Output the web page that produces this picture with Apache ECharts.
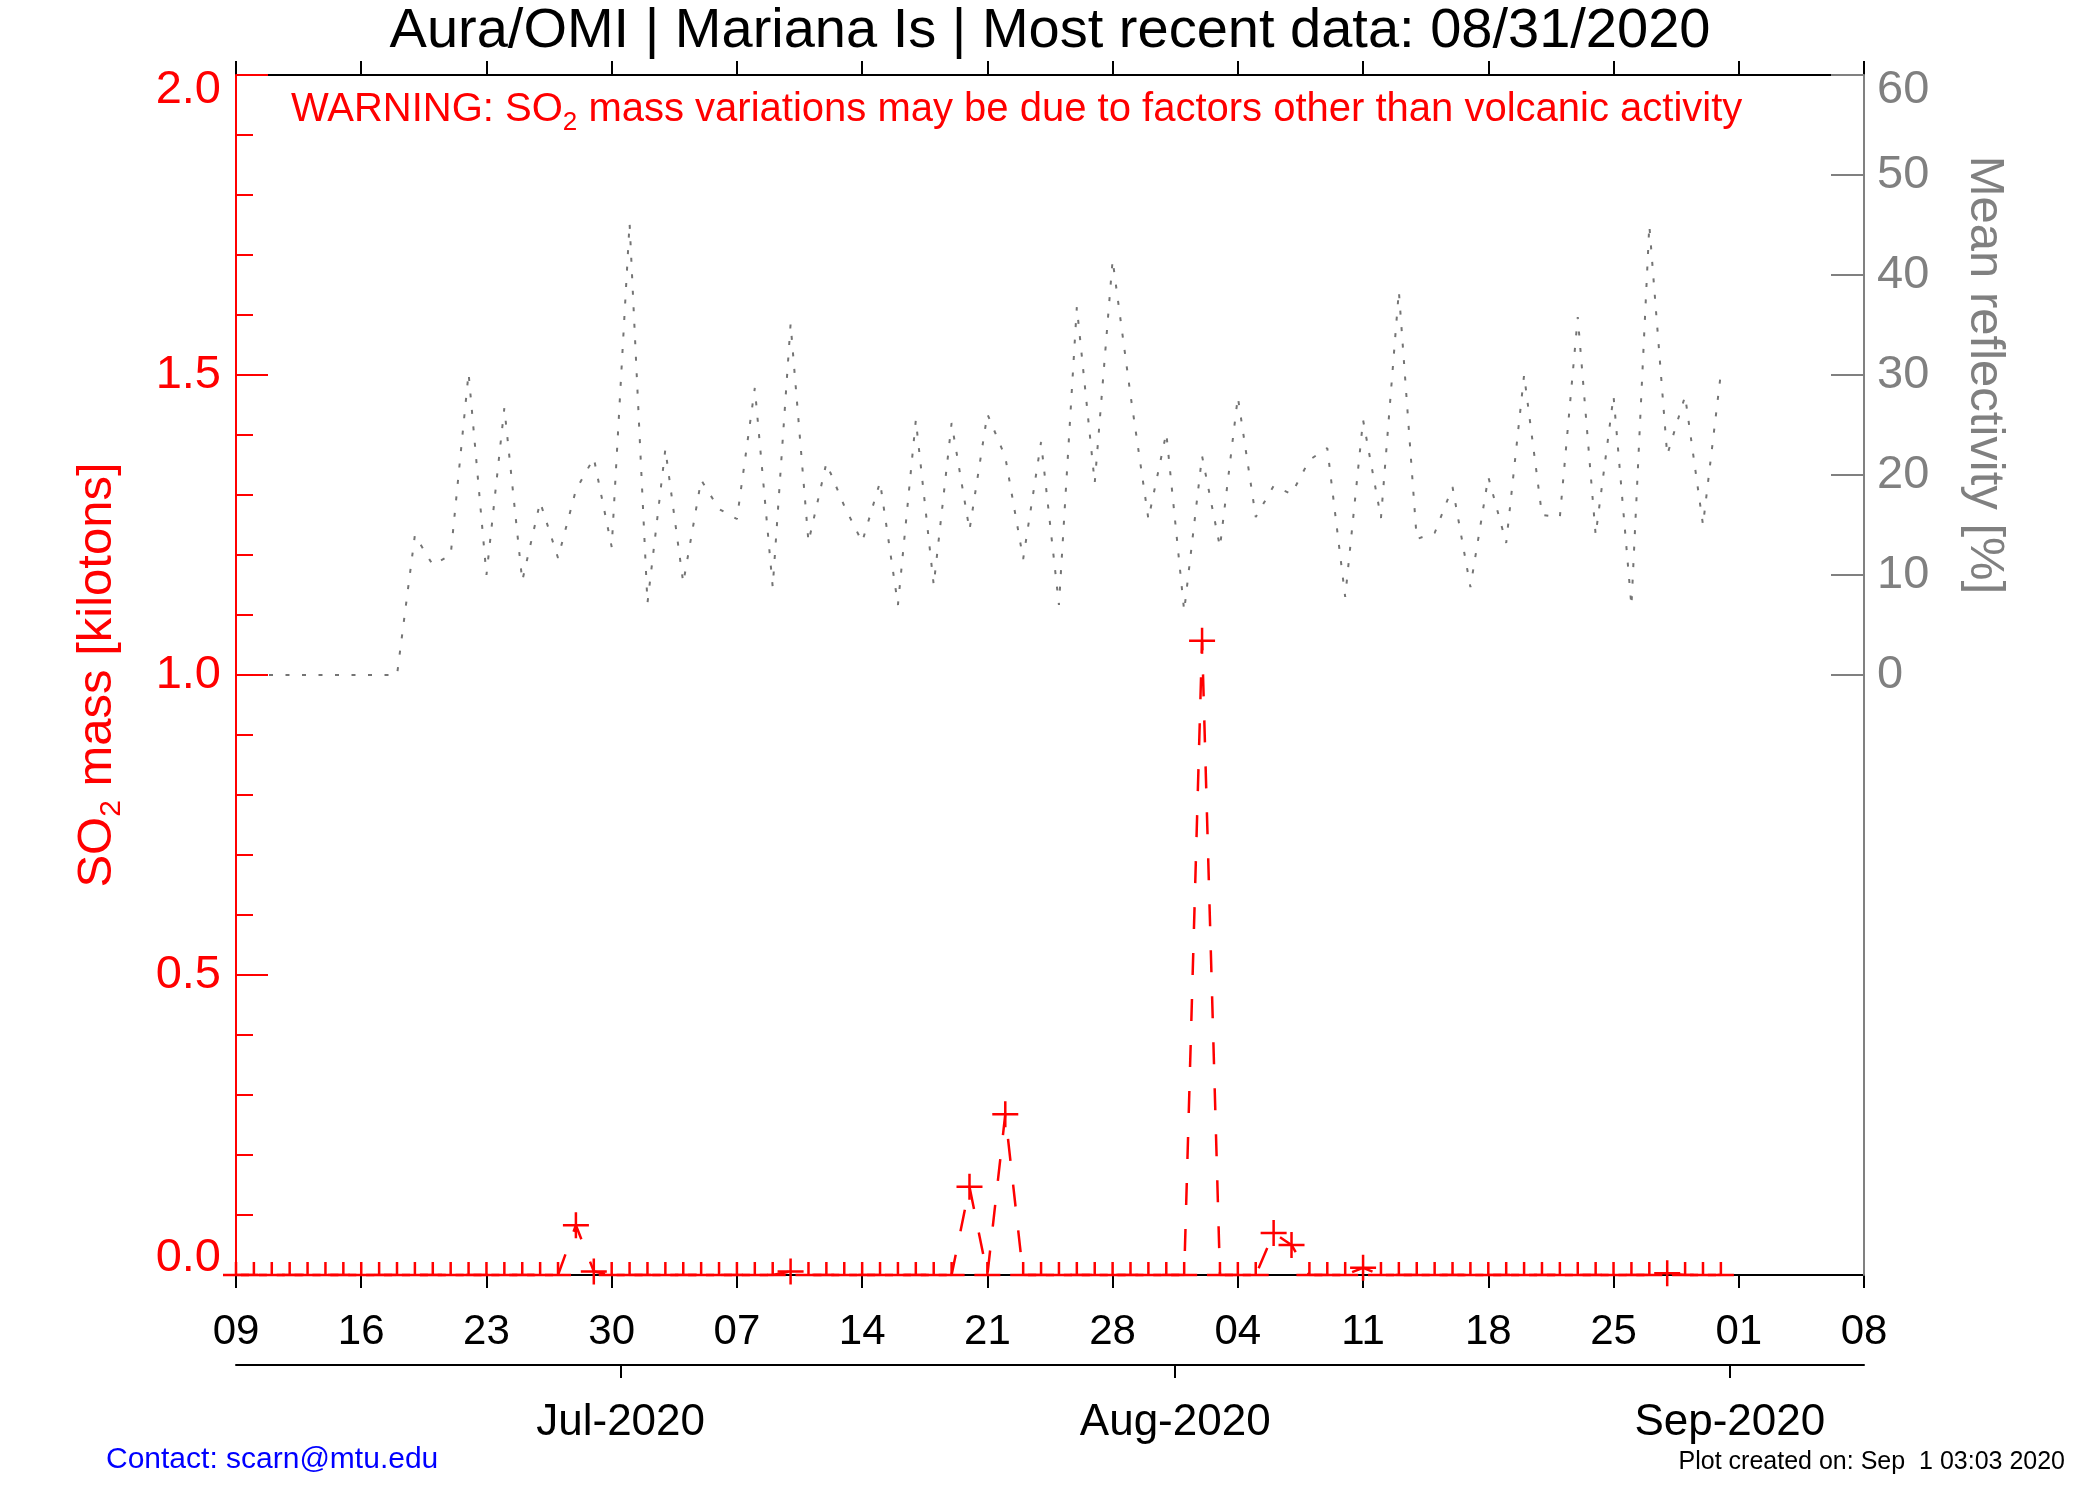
<!DOCTYPE html>
<html>
<head>
<meta charset="utf-8">
<title>Aura/OMI | Mariana Is</title>
<script src="https://cdn.jsdelivr.net/npm/echarts@6.0.0/dist/echarts.min.js"></script>
<style>
  html, body { margin: 0; padding: 0; background: #ffffff; }
  #main { width: 2100px; height: 1500px; }
</style>
</head>
<body>
<div id="main"></div>
<script type="text/javascript">
// first day of the daily series (values are daily, 06/09 .. 08/31)
var startDay = '2020-06-09';
var axisDays = 91; // 06/09 .. 09/08

// SO2 mass [kilotons], one row per week
var so2Mass = [
  0, 0, 0, 0, 0, 0, 0,
  0, 0, 0, 0, 0, 0, 0,
  0, 0, 0, 0, 0, 0.083, 0.006,
  0, 0, 0, 0, 0, 0, 0,
  0, 0, 0, 0.006, 0, 0, 0,
  0, 0, 0, 0, 0, 0, 0.147,
  0, 0.268, 0, 0, 0, 0, 0,
  0, 0, 0, 0, 0, 1.057, 0,
  0, 0, 0.070, 0.050, 0, 0, 0,
  0.012, 0, 0, 0, 0, 0, 0,
  0, 0, 0, 0, 0, 0, 0,
  0, 0, 0, 0.003, 0, 0, 0
];

// mean reflectivity [%], same days
var reflectivity = [
  0, 0, 0, 0, 0, 0, 0,
  0, 0, 0, 14.0, 11.0, 12.0, 30.2,
  10.0, 26.7, 9.4, 17.3, 11.7, 18.5, 21.7,
  12.8, 45.2, 7.2, 22.6, 9.2, 19.5, 16.6,
  15.6, 28.7, 8.8, 35.1, 13.3, 21.2, 16.9,
  13.3, 19.3, 7.0, 25.5, 9.0, 25.2, 14.5,
  26.1, 21.8, 11.6, 23.3, 7.0, 36.8, 19.2,
  41.5, 28.0, 15.6, 24.2, 6.4, 21.9, 12.8,
  27.8, 15.8, 18.9, 18.1, 21.5, 22.7, 7.8,
  25.5, 15.7, 38.4, 13.6, 14.2, 18.8, 8.8,
  19.8, 13.2, 30.0, 16.0, 15.8, 35.8, 14.0,
  27.9, 6.9, 45.0, 22.0, 27.9, 15.0, 30.2
];

// weekly tick labels (every 7 days from 06/09)
var weekLabels = ['09', '16', '23', '30', '07', '14', '21', '28', '04', '11', '18', '25', '01', '08'];
var monthStarts = ['2020-07-01', '2020-08-01', '2020-09-01'];
var monthLabels = ['Jul-2020', 'Aug-2020', 'Sep-2020'];

var FONT = '"Liberation Sans", Arial, Helvetica, sans-serif';
var RED = '#ff0000', GRAY = '#808080', BLACK = '#000000';

// data points sit at noon, month ticks at midnight
function dayOffset(s) {
  return (Date.parse(s + 'T00:00:00Z') - Date.parse(startDay + 'T12:00:00Z')) / 86400000;
}
var monthTicks = monthStarts.map(dayOffset);

// '+' marker; on the zero line only the upper half shows
var plusFull = 'path://M11.75,0H14.25V11.75H26V14.25H14.25V26H11.75V14.25H0V11.75H11.75Z';
var plusHalf = 'path://M11.75,0H14.25V11.75H26V14.25H0V11.75H11.75ZM12.99,25.99H13V26H12.99Z';

var chart = echarts.init(document.getElementById('main'));

var option = {
  animation: false,
  backgroundColor: '#ffffff',
  textStyle: { fontFamily: FONT },
  title: {
    text: 'Aura/OMI | Mariana Is | Most recent data: 08/31/2020',
    left: 'center',
    top: 4,
    padding: 0,
    textStyle: { fontFamily: FONT, fontSize: 56, fontWeight: 'normal', color: BLACK }
  },
  grid: [
    { left: 236, top: 75, width: 1628, height: 1200, outerBoundsMode: 'none' },
    { left: 236, top: 75, width: 1628, height: 600, outerBoundsMode: 'none' }
  ],
  xAxis: [
    { // days
      type: 'value', gridIndex: 0, position: 'bottom', min: 0, max: axisDays, interval: 7,
      axisLine: { onZero: false, lineStyle: { color: BLACK, width: 2 } },
      axisTick: { inside: false, length: 13, lineStyle: { color: BLACK, width: 2 } },
      axisLabel: {
        margin: 36, fontSize: 42, color: BLACK, fontFamily: FONT,
        showMinLabel: true, showMaxLabel: true,
        formatter: function (v) { return weekLabels[Math.round(v / 7)]; }
      },
      splitLine: { show: false }
    },
    { // top frame
      type: 'value', gridIndex: 0, position: 'top', min: 0, max: axisDays, interval: 7,
      axisLine: { onZero: false, lineStyle: { color: BLACK, width: 2 } },
      axisTick: { inside: false, length: 14, lineStyle: { color: BLACK, width: 2 } },
      axisLabel: { show: false },
      splitLine: { show: false }
    },
    { // months
      type: 'value', gridIndex: 0, position: 'bottom', offset: 90, min: 0, max: axisDays,
      axisLine: { onZero: false, lineStyle: { color: BLACK, width: 2 } },
      axisTick: { inside: false, length: 13, customValues: monthTicks, lineStyle: { color: BLACK, width: 2 } },
      axisLabel: {
        customValues: monthTicks, margin: 36, fontSize: 44, color: BLACK, fontFamily: FONT,
        formatter: function (v) {
          for (var i = 0; i < monthTicks.length; i++) {
            if (Math.abs(monthTicks[i] - v) < 0.01) return monthLabels[i];
          }
          return '';
        }
      },
      splitLine: { show: false }
    },
    { type: 'value', gridIndex: 1, min: 0, max: axisDays, show: false }
  ],
  yAxis: [
    { // SO2 mass
      type: 'value', gridIndex: 0, position: 'left', min: 0, max: 2, interval: 0.5, z: 3,
      name: '{n|SO}{s|2}{n| mass [kilotons]}',
      nameLocation: 'middle', nameRotate: 90, nameGap: 109, nameMoveOverlap: false,
      nameTextStyle: {
        color: RED,
        rich: {
          n: { fontSize: 49, color: RED, fontFamily: FONT },
          s: { fontSize: 30, color: RED, fontFamily: FONT, padding: [30, 0, 0, 0] }
        }
      },
      axisLine: { onZero: false, lineStyle: { color: RED, width: 2 } },
      axisTick: { inside: true, length: 32, lineStyle: { color: RED, width: 2 } },
      minorTick: { show: true, splitNumber: 5, length: 17, lineStyle: { color: RED, width: 2 } },
      axisLabel: {
        margin: 15, color: RED, fontSize: 47, fontFamily: FONT,
        showMinLabel: true, showMaxLabel: true,
        formatter: function (v) {
          if (v === 2) return '{gap|}\n{top|2.0}';
          if (v === 0) return '{bot|0.0}\n{gap0|}';
          return v.toFixed(1);
        },
        rich: {
          gap: { height: 30, lineHeight: 30 },
          top: { lineHeight: 30, fontSize: 47, color: RED, fontFamily: FONT },
          gap0: { height: 34, lineHeight: 34 },
          bot: { lineHeight: 34, fontSize: 47, color: RED, fontFamily: FONT }
        }
      },
      splitLine: { show: false }
    },
    { // right frame line
      type: 'value', gridIndex: 0, position: 'right', min: 0, max: 1, z: 3,
      axisLine: { show: true, onZero: false, lineStyle: { color: GRAY, width: 2 } },
      axisTick: { show: false },
      axisLabel: { show: false },
      splitLine: { show: false }
    },
    { // reflectivity
      type: 'value', gridIndex: 1, position: 'right', min: 0, max: 60, interval: 10, z: 3,
      name: 'Mean reflectivity [%]',
      nameLocation: 'middle', nameRotate: -90, nameGap: 96, nameMoveOverlap: false,
      nameTextStyle: { color: GRAY, fontSize: 49, fontFamily: FONT },
      axisLine: { show: false, onZero: false },
      axisTick: { inside: true, length: 33, lineStyle: { color: GRAY, width: 2 } },
      axisLabel: {
        margin: 13, color: GRAY, fontSize: 47, fontFamily: FONT,
        showMinLabel: true, showMaxLabel: true,
        formatter: function (v) {
          if (v === 60) return '{gap|}\n{top|60}';
          return String(v);
        },
        rich: {
          gap: { height: 31, lineHeight: 31 },
          top: { lineHeight: 31, fontSize: 47, color: GRAY, fontFamily: FONT }
        }
      },
      splitLine: { show: false }
    }
  ],
  graphic: [
    {
      type: 'text', x: 291, y: 110, z: 10,
      style: {
        text: '{n|WARNING: SO}{s|2}{n| mass variations may be due to factors other than volcanic activity}',
        verticalAlign: 'middle', align: 'left', fill: RED,
        rich: {
          n: { fontSize: 40, fill: RED, fontFamily: FONT },
          s: { fontSize: 26, fill: RED, fontFamily: FONT, padding: [25, 0, 0, 0] }
        }
      }
    },
    {
      type: 'text', x: 106, y: 1460, z: 10,
      style: { text: 'Contact: scarn@mtu.edu', fontSize: 30, fontFamily: FONT, fill: '#0000ff', verticalAlign: 'middle', align: 'left' }
    },
    {
      type: 'text', x: 2065, y: 1462, z: 10,
      style: { text: 'Plot created on: Sep  1 03:03 2020', fontSize: 25, fontFamily: FONT, fill: BLACK, verticalAlign: 'middle', align: 'right' }
    }
  ],
  series: [
    {
      name: 'Mean reflectivity',
      type: 'line', xAxisIndex: 3, yAxisIndex: 2,
      data: reflectivity.map(function (v, i) { return [i, v]; }),
      showSymbol: false, symbol: 'none',
      lineStyle: { color: '#747474', width: 2, type: [4, 12.5] },
      z: 2
    },
    {
      name: 'SO2 mass',
      type: 'line', xAxisIndex: 0, yAxisIndex: 0,
      data: so2Mass.map(function (v, i) { return [i, v]; }),
      showAllSymbol: true,
      symbol: function (val) { return val[1] === 0 ? plusHalf : plusFull; },
      symbolSize: 26,
      itemStyle: { color: RED },
      lineStyle: { color: RED, width: 2.5, type: [22, 24] },
      z: 4
    }
  ]
};

chart.setOption(option);
</script>
</body>
</html>
